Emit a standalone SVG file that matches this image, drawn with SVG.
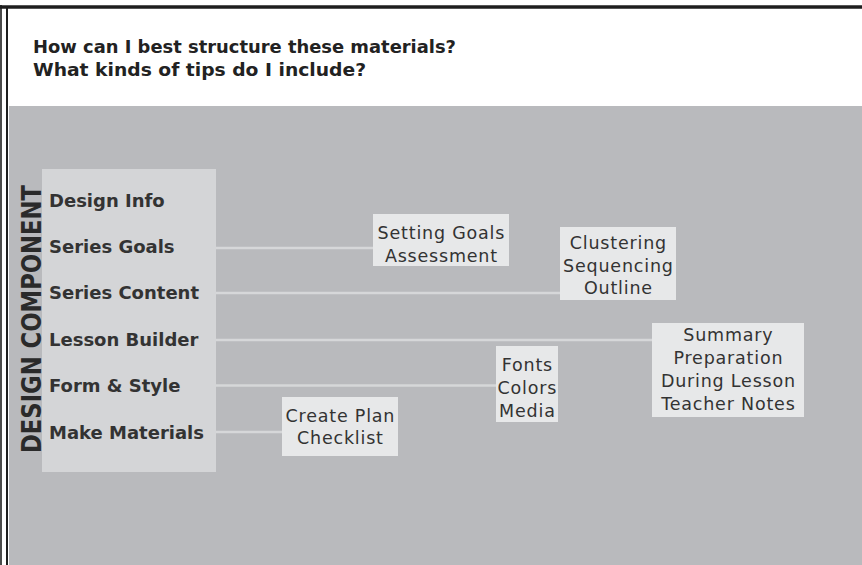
<svg xmlns="http://www.w3.org/2000/svg" width="862" height="565" viewBox="0 0 862 565">
  <style>
    .title { font-family: "DejaVu Sans", Verdana, sans-serif; font-weight: bold; font-size: 17.5px; fill: #222; }
    .side { font-family: "DejaVu Sans", Verdana, sans-serif; font-weight: bold; font-size: 27px; fill: #2a2a2a; }
    .item { font-family: "DejaVu Sans", Verdana, sans-serif; font-weight: bold; font-size: 18px; fill: #333; }
    .tip { font-family: "DejaVu Sans", Verdana, sans-serif; font-size: 17.5px; letter-spacing: 0.8px; fill: #333; text-anchor: middle; }
    .box { fill: #e7e8e9; }
    .link { stroke: #d6d7d9; stroke-width: 2.5; fill: none; }
  </style>

  <!-- page background and frame -->
  <rect x="0" y="0" width="862" height="565" fill="#ffffff"/>
  <rect x="9" y="106" width="853" height="459" fill="#b9babd"/>
  <line x1="0" y1="7" x2="862" y2="7" stroke="#1e1e1e" stroke-width="3.5"/>
  <line x1="1" y1="5" x2="1" y2="565" stroke="#1e1e1e" stroke-width="1.6"/>
  <line x1="7" y1="7" x2="7" y2="565" stroke="#1e1e1e" stroke-width="2"/>

  <!-- heading -->
  <g id="heading">
    <text class="title" x="33" y="53" textLength="423" lengthAdjust="spacingAndGlyphs">How can I best structure these materials?</text>
    <text class="title" x="33" y="75.5" textLength="333" lengthAdjust="spacingAndGlyphs">What kinds of tips do I include?</text>
  </g>

  <!-- connectors from the component list to the tip boxes -->
  <g id="connectors">
    <line class="link" x1="216" y1="248" x2="373" y2="248"/>
    <line class="link" x1="216" y1="293" x2="560" y2="293"/>
    <line class="link" x1="216" y1="340" x2="652" y2="340"/>
    <line class="link" x1="216" y1="385.5" x2="496" y2="385.5"/>
    <line class="link" x1="216" y1="432" x2="282" y2="432"/>
  </g>

  <!-- design component list -->
  <g id="design-component">
    <rect x="42" y="169" width="174" height="303" fill="#d4d5d7"/>
    <text class="side" transform="translate(41 453) rotate(-90)" textLength="268" lengthAdjust="spacingAndGlyphs">DESIGN COMPONENT</text>
    <text class="item" x="49" y="207">Design Info</text>
    <text class="item" x="49" y="253">Series Goals</text>
    <text class="item" x="49" y="299">Series Content</text>
    <text class="item" x="49" y="346">Lesson Builder</text>
    <text class="item" x="49" y="392">Form &amp; Style</text>
    <text class="item" x="49" y="439">Make Materials</text>
  </g>

  <g id="goals-tips">
    <rect class="box" x="373" y="214" width="136" height="52"/>
    <text class="tip" x="441.4" y="239">Setting Goals</text>
    <text class="tip" x="441.4" y="262">Assessment</text>
  </g>

  <g id="content-tips">
    <rect class="box" x="560" y="227" width="116" height="73"/>
    <text class="tip" x="618.4" y="249">Clustering</text>
    <text class="tip" x="618.4" y="272">Sequencing</text>
    <text class="tip" x="618.4" y="294">Outline</text>
  </g>

  <g id="lesson-tips">
    <rect class="box" x="652" y="323" width="152" height="94"/>
    <text class="tip" x="728.4" y="341">Summary</text>
    <text class="tip" x="728.4" y="364">Preparation</text>
    <text class="tip" x="728.4" y="387">During Lesson</text>
    <text class="tip" x="728.4" y="410">Teacher Notes</text>
  </g>

  <g id="style-tips">
    <rect class="box" x="496" y="346" width="62" height="76"/>
    <text class="tip" x="527.4" y="371">Fonts</text>
    <text class="tip" x="527.4" y="394">Colors</text>
    <text class="tip" x="527.4" y="417">Media</text>
  </g>

  <g id="materials-tips">
    <rect class="box" x="282" y="397" width="116" height="59"/>
    <text class="tip" x="340.4" y="421.5">Create Plan</text>
    <text class="tip" x="340.4" y="444">Checklist</text>
  </g>
</svg>
